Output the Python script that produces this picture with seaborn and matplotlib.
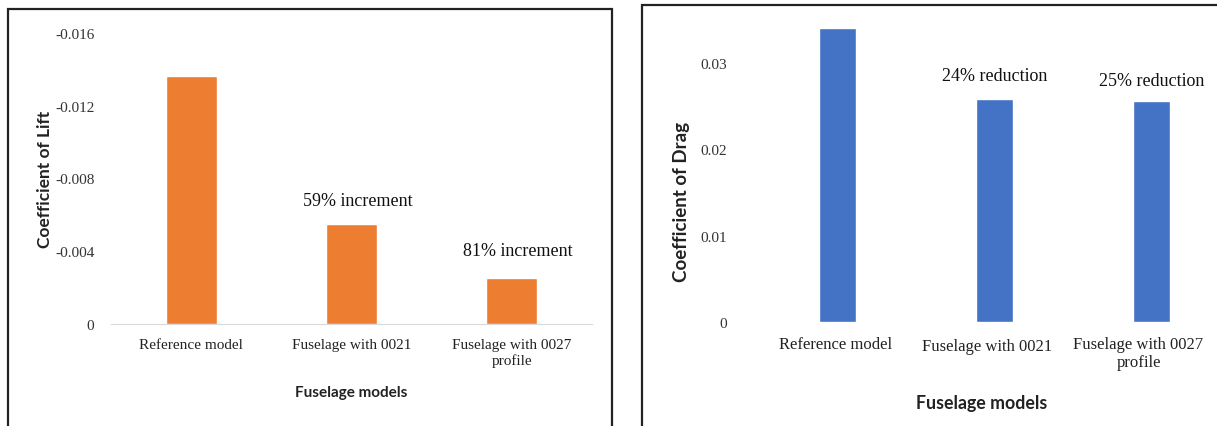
import matplotlib
matplotlib.use("Agg")
import matplotlib.pyplot as plt
import matplotlib.transforms as mtransforms
from matplotlib.patches import Rectangle
import seaborn as sns

# data
models = ["Reference model", "Fuselage with 0021", "Fuselage with 0027\nprofile"]
lift = [-0.01365, -0.0055, -0.00253]
drag = [0.03407, 0.0259, 0.02557]
lift_notes = ["", "59% increment", "81% increment"]
drag_notes = ["", "24% reduction", "25% reduction"]
lift_ticks = [0, -0.004, -0.008, -0.012, -0.016]
drag_ticks = [0, 0.01, 0.02, 0.03]

sns.set_style("white")
serif = ["Liberation Serif", "DejaVu Serif"]
sans = ["Lato", "DejaVu Sans"]

fig = plt.figure(figsize=(12.17, 4.27), dpi=100)

# panel frames
frame_kw = dict(transform=fig.transFigure, fill=False, edgecolor="#222222",
                lw=1.6, clip_on=False)
fig.patches.append(Rectangle((8 / 1217, -0.05), (612 - 8) / 1217,
                             1.05 - 9.5 / 427, **frame_kw))
fig.patches.append(Rectangle((642 / 1217, -0.05), 0.5,
                             1.05 - 5.5 / 427, **frame_kw))

# ---- left: lift ----
ax1 = fig.add_axes([111 / 1217, 1 - 325 / 427, 481 / 1217, 291 / 427])
sns.barplot(x=models, y=lift, color="#ED7D31", saturation=1, width=0.32, ax=ax1)
ax1.set_ylim(0, -0.016)
ax1.set_yticks(lift_ticks, labels=[f"{t:g}" for t in lift_ticks])
for s in ["top", "right", "left"]:
    ax1.spines[s].set_visible(False)
ax1.spines["bottom"].set_color("#D9D9D9")
ax1.tick_params(length=0)
ax1.tick_params(axis="y", pad=12, labelsize=11, labelcolor="#333333")
ax1.tick_params(axis="x", pad=10, labelsize=11, labelcolor="#222222")
for lab in ax1.get_xticklabels() + ax1.get_yticklabels():
    lab.set_family(serif)
ax1.set_ylabel("Coefficient of Lift", family=sans, fontweight="bold",
               fontsize=12.5, color="#222222")
ax1.yaxis.set_label_coords(-0.12, 0.5)
ax1.set_xlabel("Fuselage models", family=sans, fontweight="bold",
               fontsize=11, color="#222222")
ax1.xaxis.set_label_coords(0.5, -0.21)
for i, (v, note) in enumerate(zip(lift, lift_notes)):
    if note:
        ax1.text(i + 0.04, v - (0.0013 if i == 1 else 0.0015), note,
                 ha="center", va="center", fontsize=13, family=serif,
                 color="#111111")

# ---- right: drag ----
ax2 = fig.add_axes([759 / 1217, 1 - 323 / 427, 458 / 1217, 302 / 427])
sns.barplot(x=models, y=drag, color="#4472C4", saturation=1, width=0.23, ax=ax2)
ax2.set_xlim(-0.5, 2.417)
ax2.set_ylim(0, 0.035)
ax2.set_yticks(drag_ticks, labels=[f"{t:g}" for t in drag_ticks])
for s in ax2.spines.values():
    s.set_visible(False)
ax2.tick_params(length=0)
ax2.tick_params(axis="y", pad=23, labelsize=11, labelcolor="#333333")
ax2.tick_params(axis="x", pad=10, labelsize=12, labelcolor="#222222")
for lab in ax2.get_xticklabels() + ax2.get_yticklabels():
    lab.set_family(serif)
ax2.set_ylabel("Coefficient of Drag", family=sans, fontweight="bold",
               fontsize=13.5, color="#222222")
ax2.yaxis.set_label_coords(-0.15, 0.40)
ax2.set_xlabel("Fuselage models", family=sans, fontweight="bold",
               fontsize=12.8, color="#222222")
ax2.xaxis.set_label_coords(0.487, -0.24)
for i, (v, note) in enumerate(zip(drag, drag_notes)):
    if note:
        ax2.text(i, v + (0.0027 if i == 1 else 0.0024), note,
                 ha="center", va="center", fontsize=13, family=serif,
                 color="#111111")
# labels in the reference drift left of their bars
for lab, dx in zip(ax2.get_xticklabels(), [-2, -7, -13]):
    shift = mtransforms.ScaledTranslation(dx / 100, -2 / 100 if dx == -7 else 0,
                                          fig.dpi_scale_trans)
    lab.set_transform(lab.get_transform() + shift)

fig.savefig("out.png", dpi=100)
